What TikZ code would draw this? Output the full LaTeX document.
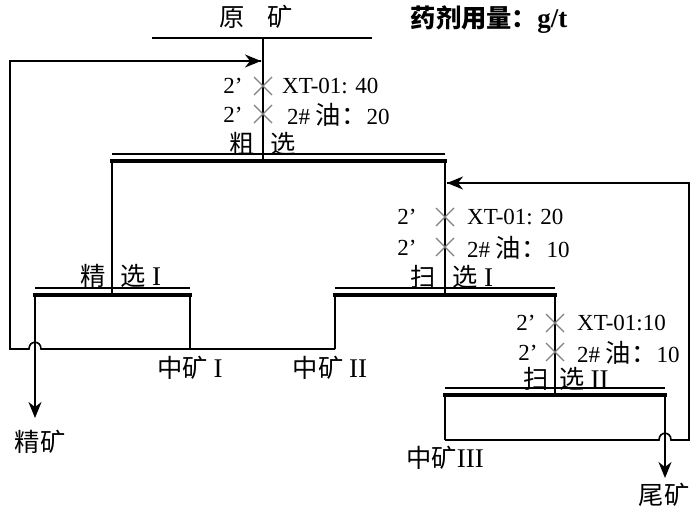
\documentclass[tikz,border=0pt]{standalone}
\usepackage{fontspec}
\setmainfont{Liberation Serif}
\newfontfamily\cjk[Scale=1.1]{Noto Sans CJK SC}
\newcommand\romnum[1]{{\fontsize{27}{30}\selectfont #1}}
\usetikzlibrary{arrows.meta}

\begin{document}
\begin{tikzpicture}[x=1pt,y=-1pt,
    every node/.style={font=\fontsize{23}{27}\selectfont, inner sep=0pt},
    pipe/.style={line width=1.6pt},
    bar/.style={line width=3.8pt},
    flow/.style={pipe, -{Stealth[length=16pt,width=13pt,inset=5pt]}},
    dose/.style={gray, line width=1.3pt}]
\useasboundingbox (0,0) rectangle (700,512);

% feed and dosing points
\coordinate (feedA) at (152,38);
\coordinate (feedB) at (372,38);
\coordinate (feedT) at (263,38);
\coordinate (rgIn) at (263,161);
\coordinate (d1) at (263,86);
\coordinate (d2) at (263,114);
\coordinate (d3) at (445,217);
\coordinate (d4) at (445,247);
\coordinate (d5) at (555,323);
\coordinate (d6) at (555,352);

% cell corners
\coordinate (rgL) at (112,161);
\coordinate (rgR) at (445,161);
\coordinate (clL) at (35,295);
\coordinate (clR) at (190,295);
\coordinate (s1L) at (335,295);
\coordinate (s1R) at (555,295);
\coordinate (s2L) at (445,395);
\coordinate (s2R) at (665,395);

% return lines
\coordinate (mid1) at (335,349);
\coordinate (mid1b) at (190,349);
\coordinate (loopL) at (10,349);
\coordinate (loopLT) at (10,61);
\coordinate (loopLE) at (261,61);
\coordinate (mid3) at (445,440);
\coordinate (loopR) at (689,440);
\coordinate (loopRT) at (689,183);
\coordinate (loopRE) at (447,183);
\coordinate (conc) at (35,418);
\coordinate (tail) at (665,478);

\node (yk) at (256,17) {{\cjk 原}\quad{\cjk 矿}};
\node (yl) at (489,20) {\bfseries{\cjk 药剂用量：}\romnum{g/t}};

% rougher
\draw[pipe] (feedA) -- (feedB);
\draw[pipe] (feedT) -- (rgIn);
\draw[bar] ([xshift=-2pt]rgL) -- ([xshift=2pt]rgR);
\draw[pipe] ([yshift=7pt]rgL) -- ([yshift=7pt]rgR);
\draw[pipe] (rgL) -- (rgL |- clL);
\draw[pipe] (rgR) -- (rgR |- s1L);
\node (cx) at (242,144) {\cjk 粗};
\node (cx2) at (283,144) {\cjk 选};

% cleaner I
\draw[bar] ([xshift=-2pt]clL) -- ([xshift=2pt]clR);
\draw[pipe] ([yshift=7pt]clL) -- ([yshift=7pt]clR);
\draw[pipe] (clR) -- (mid1b);
\draw[flow] (clL) -- (conc);
\node (jx) at (93,276) {\cjk 精};
\node (jx2) at (141,276) {{\cjk 选} \romnum{I}};

% scavenger I
\draw[bar] ([xshift=-2pt]s1L) -- ([xshift=2pt]s1R);
\draw[pipe] ([yshift=7pt]s1L) -- ([yshift=7pt]s1R);
\draw[pipe] (s1L) -- (mid1);
\draw[pipe] (s1R) -- (s1R |- s2L);
\node (sx) at (423,277) {\cjk 扫};
\node (sx2) at (473,277) {{\cjk 选} \romnum{I}};

% scavenger II
\draw[bar] ([xshift=-2pt]s2L) -- ([xshift=2pt]s2R);
\draw[pipe] ([yshift=7pt]s2L) -- ([yshift=7pt]s2R);
\draw[pipe] (s2L) -- (mid3);
\draw[flow] (s2R) -- (tail);
\node (sy) at (536,379) {\cjk 扫};
\node (sy2) at (584,379) {{\cjk 选} \romnum{II}};

% middlings back to the rougher
\draw[pipe] (mid1) -- (41,349) .. controls (41,340) and (29,340) .. (29,349)
  -- (loopL) -- (loopLT) -- (loopLE);
\draw[flow] (loopLT) -- (loopLE);
\draw[pipe] (mid3) -- (659,440) .. controls (659,431) and (671,431) .. (671,440)
  -- (loopR) -- (loopRT) -- (loopRE);
\draw[flow] (loopRT) -- (loopRE);

% reagents
\foreach \d in {d1,d2,d3,d4,d5,d6}
  \draw[dose] (\d) +(-9,-9) -- +(9,9) +(-9,9) -- +(9,-9);
\node (t1) at (233,86) {2’};
\node (t2) at (233,115) {2’};
\node[anchor=west] (r1) at (282,86) {XT-01: 40};
\node[anchor=west] (r2) at (287,115) {2\# {\cjk 油：}20};
\node (t3) at (407,217) {2’};
\node (t4) at (407,248) {2’};
\node[anchor=west] (r3) at (467,217) {XT-01: 20};
\node[anchor=west] (r4) at (467,248) {2\# {\cjk 油：}10};
\node (t5) at (526,323) {2’};
\node (t6) at (528,353) {2’};
\node[anchor=west] (r5) at (577,323) {XT-01:10};
\node[anchor=west] (r6) at (577,353) {2\# {\cjk 油：}10};

% products
\node (zk1) at (190,368) {{\cjk 中矿} \romnum{I}};
\node (zk2) at (330,368) {{\cjk 中矿} \romnum{II}};
\node (zk3) at (445,458) {{\cjk 中矿}\romnum{III}};
\node (jk) at (40,442) {\cjk 精矿};
\node (wk) at (664,495) {\cjk 尾矿};
\end{tikzpicture}
\end{document}
